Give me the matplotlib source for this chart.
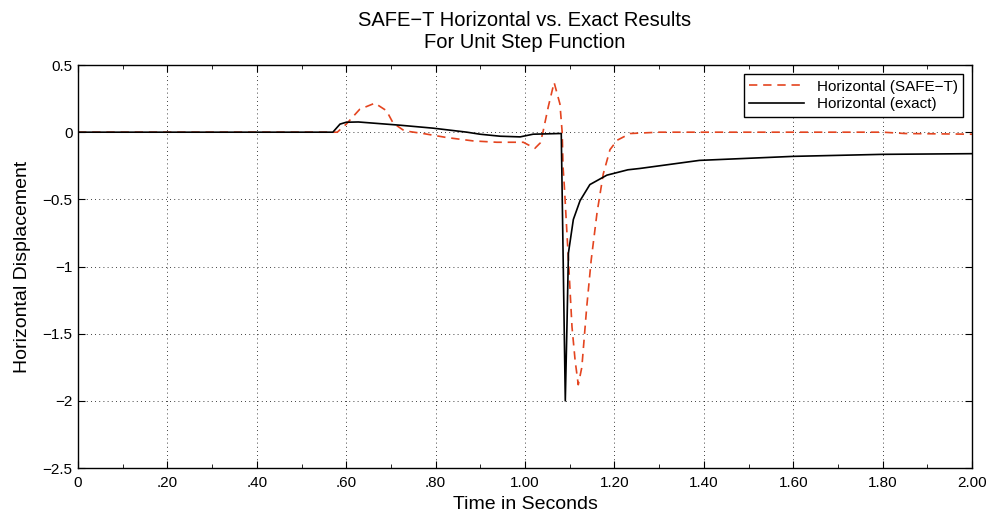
import matplotlib
matplotlib.use("Agg")
import matplotlib.pyplot as plt
from matplotlib.ticker import MultipleLocator

plt.rcParams['font.family'] = ['Liberation Sans', 'DejaVu Sans']

# SAFE-T horizontal response
t_safe = [0.0, 0.58, 0.60, 0.63, 0.664, 0.69, 0.705, 0.73, 0.772, 0.825, 0.884,
          0.937, 0.996, 1.022, 1.034, 1.04, 1.052, 1.065, 1.078, 1.083, 1.085,
          1.088, 1.097, 1.105, 1.112, 1.119, 1.127, 1.138, 1.148, 1.161, 1.175,
          1.19, 1.206, 1.235, 1.30, 1.50, 1.80, 1.85, 2.0]
v_safe = [0.0, 0.0, 0.06, 0.17, 0.216, 0.16, 0.067, 0.01, -0.01, -0.04, -0.065,
          -0.075, -0.075, -0.12, -0.08, 0.0, 0.19, 0.37, 0.21, 0.0, -0.26,
          -0.41, -0.95, -1.45, -1.70, -1.88, -1.75, -1.30, -0.95, -0.60, -0.31,
          -0.13, -0.06, -0.01, 0.0, 0.0, 0.0, -0.01, -0.015]

# exact horizontal response
t_exact = [0.0, 0.57, 0.586, 0.60, 0.627, 0.72, 0.794, 0.87, 0.899, 0.944,
           0.989, 1.018, 1.078, 1.081, 1.090, 1.094, 1.097, 1.108, 1.123, 1.145,
           1.183, 1.23, 1.257, 1.39, 1.60, 1.80, 2.0]
v_exact = [0.0, 0.0, 0.06, 0.074, 0.076, 0.052, 0.03, 0.0, -0.015, -0.03,
           -0.035, -0.015, -0.01, -0.01, -2.0, -1.4, -0.9, -0.65, -0.51, -0.39,
           -0.32, -0.28, -0.27, -0.21, -0.18, -0.165, -0.16]

x_ticks = [0.0, 0.2, 0.4, 0.6, 0.8, 1.0, 1.2, 1.4, 1.6, 1.8, 2.0]
x_labels = ['0', '.20', '.40', '.60', '.80', '1.00', '1.20', '1.40', '1.60', '1.80', '2.00']
y_ticks = [-2.5, -2.0, -1.5, -1.0, -0.5, 0.0, 0.5]
y_labels = ['\u22122.5', '\u22122', '\u22121.5', '\u22121', '\u22120.5', '0', '0.5']

fig = plt.figure(figsize=(9.89, 5.16), dpi=100, facecolor='w')
ax = fig.add_axes([0.0789, 0.093, 0.904, 0.781])

ax.plot(t_safe, v_safe, color='#e4441f', linestyle=(0, (5, 3.5)), linewidth=1.2,
        label='Horizontal (SAFE\u2212T)')
ax.plot(t_exact, v_exact, color='k', linewidth=1.2, label='Horizontal (exact)')

ax.set_xlim(0, 2.0)
ax.set_ylim(-2.5, 0.5)
ax.set_xticks(x_ticks)
ax.set_xticklabels(x_labels)
ax.set_yticks(y_ticks)
ax.set_yticklabels(y_labels)
ax.xaxis.set_minor_locator(MultipleLocator(0.1))
ax.tick_params(which='both', direction='in', top=True, right=True, labelsize=11)
ax.tick_params(which='major', length=5, pad=4)
ax.tick_params(axis='x', which='major', pad=6)
ax.tick_params(which='minor', length=3)
ax.grid(True, which='major', color='k', linestyle=(0, (1, 4)), linewidth=0.6)
for s in ax.spines.values():
    s.set_linewidth(1.0)

ax.set_title('SAFE\u2212T Horizontal vs. Exact Results\nFor Unit Step Function', fontsize=14.5,
             linespacing=1.25, pad=12)
ax.set_xlabel('Time in Seconds', fontsize=14, labelpad=4)
ax.set_ylabel('Horizontal Displacement', fontsize=14, labelpad=8)

leg = ax.legend(loc='upper right', fontsize=11, fancybox=False, framealpha=1,
                edgecolor='k', borderaxespad=0.6, handlelength=3.6,
                borderpad=0.35, labelspacing=0.25)
leg.get_frame().set_linewidth(1.0)

fig.savefig('out.png', dpi=100)
plt.close(fig)
